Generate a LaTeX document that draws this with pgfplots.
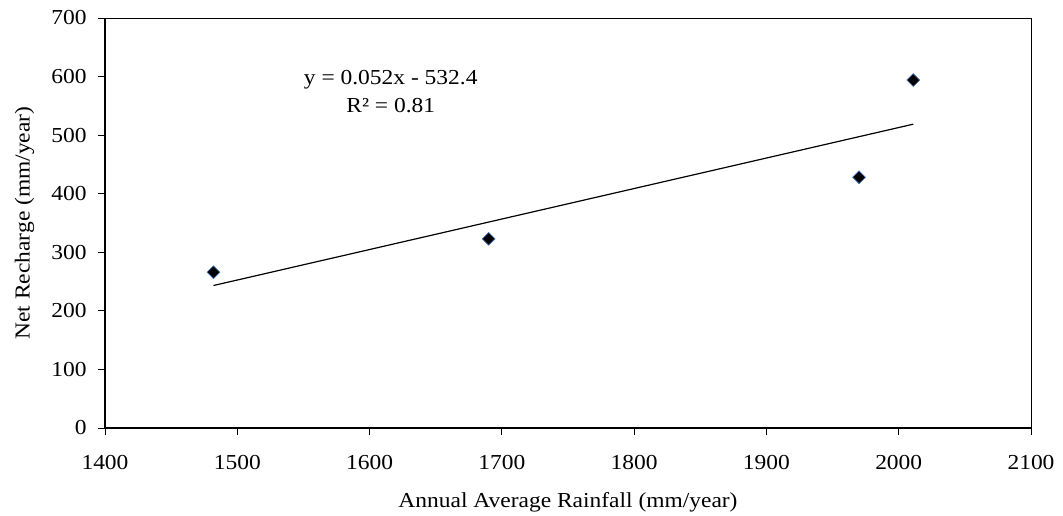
\documentclass[border=0pt]{standalone}
\usepackage{fontspec}
\setmainfont{Liberation Serif}[FakeStretch=1.1]
\usepackage{pgfplots}
\pgfplotsset{compat=1.18}
\usepackage{pgfplotstable}

\definecolor{markedge}{RGB}{70,120,190}

\pgfplotstableread{
x y
1482 266
1690 323
1970 428
2011 594
}\recharge

\begin{document}
\begin{tikzpicture}
\useasboundingbox (-78.75pt,-65.25pt) rectangle (718.5pt,321pt);
\begin{axis}[
    at={(0,0)}, anchor=south west,
    scale only axis,
    width=694.5pt, height=307.5pt,
    xmin=1400, xmax=2100, ymin=0, ymax=700,
    xtick distance=100, ytick distance=100,
    xtick pos=bottom, ytick pos=left,
    tick align=outside,
    major tick length=5.25pt,
    tick style={black, line width=0.6pt},
    axis line style={black, line width=0.6pt},
    /pgf/number format/assume math mode=true,
    /pgf/number format/1000 sep={},
    tick label style={font=\fontsize{16}{18}\selectfont},
    xticklabel style={yshift=-12pt},
    yticklabel style={xshift=-5pt},
    label style={font=\fontsize{16}{18}\selectfont},
    xlabel={Annual Average Rainfall (mm/year)},
    ylabel={Net Recharge (mm/year)},
    xlabel style={yshift=-10pt},
    ylabel style={yshift=6pt},
    after end axis/.code={
        \draw[black, line width=1.2pt] (rel axis cs:0,1) -- (rel axis cs:0,0) -- (rel axis cs:1,0);
    },
]
\addplot[only marks, mark=square*, mark size=3.4pt,
    mark options={rotate=45, fill=black, draw=markedge, line width=0.5pt}] table[x=x, y=y] {\recharge};
\addplot[black, line width=0.9pt, no marks]
    table[x=x, y={create col/linear regression={y=y}}] {\recharge};
\node[align=center, font=\fontsize{16}{21}\selectfont] at (axis cs:1616,575)
    {y = 0.052x - 532.4\\R² = 0.81};
\end{axis}
\end{tikzpicture}
\end{document}
